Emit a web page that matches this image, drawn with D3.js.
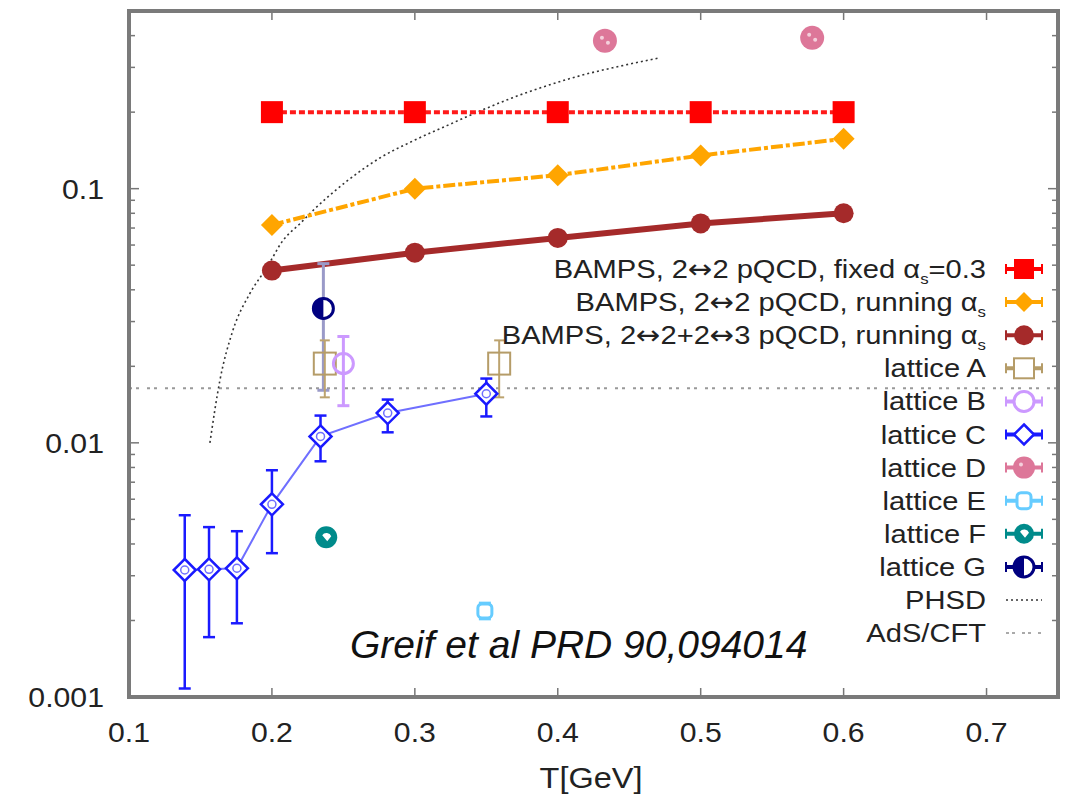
<!DOCTYPE html>
<html>
<head>
<meta charset="utf-8">
<script src="https://cdn.jsdelivr.net/npm/d3@7"></script>
<style>
  body { margin: 0; background: #fff; }
  text { font-family: "Liberation Sans", Arial, sans-serif; fill: #222; }
</style>
</head>
<body>
<div id="chart"></div>
<script>
// temperaturas BAMPS
let bampsT = [0.2, 0.3, 0.4, 0.5, 0.6];
let bampsFixed = [0.2, 0.2, 0.2, 0.2, 0.2];
let bampsRunning = [0.072, 0.1, 0.113, 0.135, 0.157];
let bampsRunning23 = [0.0476, 0.056, 0.064, 0.073, 0.080];

// lattice C (con errores)
let latCT = [0.139, 0.156, 0.1755, 0.2, 0.234, 0.281, 0.35];
let latCV = [0.00316, 0.00318, 0.00321, 0.00573, 0.0106, 0.0131, 0.0156];
let latCLo = [0.00108, 0.00172, 0.00195, 0.00368, 0.00846, 0.011, 0.0127];
let latCHi = [0.00519, 0.00466, 0.00449, 0.0078, 0.0128, 0.0148, 0.0179];

let latAT = [0.237, 0.359];
let latAV = [0.0205, 0.0205];
let latALo = [0.0151, 0.0151];
let latAHi = [0.0253, 0.0253];

let latBT = [0.25];
let latBV = [0.0205];
let latBLo = [0.014];
let latBHi = [0.0262];

let latDT = [0.433, 0.578];
let latDV = [0.382, 0.392];

let latET = [0.349];
let latEV = [0.00218];
let latELo = [0.00203];
let latEHi = [0.00234];

let latFT = [0.238];
let latFV = [0.00425];

let latGT = [0.236];
let latGV = [0.0338];
let latGLo = [0.0161];
let latGHi = [0.0507];

// curva PHSD
let phsdT = [0.1566, 0.1636, 0.1727, 0.1846, 0.1965, 0.2077, 0.2196, 0.2287, 0.2524, 0.2755, 0.2986, 0.3224, 0.3455, 0.3685, 0.3923, 0.4154, 0.4385, 0.4713];
let phsdV = [0.0100, 0.0176, 0.0277, 0.0387, 0.0490, 0.0625, 0.0728, 0.082, 0.107, 0.132, 0.154, 0.177, 0.202, 0.228, 0.254, 0.278, 0.299, 0.327];

// AdS/CFT constante
let adsV = 0.0164;

let xTicks = [0.1, 0.2, 0.3, 0.4, 0.5, 0.6, 0.7];
let yTicks = [0.001, 0.01, 0.1];

let W = 1069, H = 799;
let pLeft = 129, pRight = 1058, pTop = 11, pBottom = 697;
let stretch = 1.12; // el texto original es algo más ancho

let svg = d3.select("#chart").append("svg")
    .attr("width", W)
    .attr("height", H);

let x = d3.scaleLinear().domain([0.1, 0.75]).range([pLeft, pRight]);
let y = d3.scaleLog().domain([0.001, 0.5]).range([pBottom, pTop]);

function zip(ts, vs, lo, hi) {
    return ts.map((t, i) => ({t: t, v: vs[i], lo: lo ? lo[i] : null, hi: hi ? hi[i] : null}));
}

function label(parent, px, py, anchor, size, str) {
    return parent.append("text")
        .attr("transform", "translate(" + px + "," + py + ") scale(" + stretch + ",1)")
        .attr("text-anchor", anchor)
        .style("font-size", size + "px")
        .text(str);
}

let line = d3.line().x(d => x(d.t)).y(d => y(d.v));

// defs
svg.append("defs").append("clipPath").attr("id", "plotClip")
    .append("rect").attr("x", pLeft).attr("y", pTop)
    .attr("width", pRight - pLeft).attr("height", pBottom - pTop);

// ticks interiores
let tickG = svg.append("g").attr("stroke", "#777").attr("stroke-width", 1.5);
xTicks.forEach(t => {
    tickG.append("line").attr("x1", x(t)).attr("x2", x(t)).attr("y1", pBottom).attr("y2", pBottom - 9);
    tickG.append("line").attr("x1", x(t)).attr("x2", x(t)).attr("y1", pTop).attr("y2", pTop + 9);
});
let minor = [];
[0.001, 0.01, 0.1].forEach(dec => {
    for (let k = 1; k <= 9; k++) {
        if (dec * k <= 0.5) minor.push({v: dec * k, major: k === 1});
    }
});
minor.forEach(m => {
    let len = m.major ? 10 : 6;
    tickG.append("line").attr("x1", pLeft).attr("x2", pLeft + len).attr("y1", y(m.v)).attr("y2", y(m.v));
    tickG.append("line").attr("x1", pRight).attr("x2", pRight - len).attr("y1", y(m.v)).attr("y2", y(m.v));
});

// etiquetas de ejes
let axisText = svg.append("g");
xTicks.forEach(t => label(axisText, x(t), 742, "middle", 27, d3.format(".1f")(t)));
yTicks.forEach(v => label(axisText, 104, y(v) + 10, "end", 27, String(v)));
label(axisText, 591, 788, "middle", 29, "T[GeV]");

let plot = svg.append("g").attr("clip-path", "url(#plotClip)");

// AdS/CFT
plot.append("line")
    .attr("x1", pLeft).attr("x2", pRight)
    .attr("y1", y(adsV)).attr("y2", y(adsV))
    .attr("stroke", "#999").attr("stroke-width", 2)
    .attr("stroke-dasharray", "3,4,3,8");

// PHSD
plot.append("path")
    .datum(zip(phsdT, phsdV))
    .attr("d", line.curve(d3.curveMonotoneX))
    .attr("fill", "none")
    .attr("stroke", "#333").attr("stroke-width", 1.6)
    .attr("stroke-dasharray", "2,3");
line.curve(d3.curveLinear);

// barras de error
function errorBars(data, color, width, cap) {
    let g = plot.append("g").attr("stroke", color).attr("stroke-width", width);
    data.forEach(d => {
        g.append("line").attr("x1", x(d.t)).attr("x2", x(d.t)).attr("y1", y(d.lo)).attr("y2", y(d.hi));
        g.append("line").attr("x1", x(d.t) - cap).attr("x2", x(d.t) + cap).attr("y1", y(d.lo)).attr("y2", y(d.lo));
        g.append("line").attr("x1", x(d.t) - cap).attr("x2", x(d.t) + cap).attr("y1", y(d.hi)).attr("y2", y(d.hi));
    });
}

function diamond(r) { return "M0," + (-r) + "L" + r + ",0L0," + r + "L" + (-r) + ",0Z"; }

// BAMPS fijo
let fixedData = zip(bampsT, bampsFixed);
plot.append("path").datum(fixedData).attr("d", line)
    .attr("fill", "none").attr("stroke", "#ff1a1a").attr("stroke-width", 4)
    .attr("stroke-dasharray", "6,3");
plot.append("g").selectAll("rect").data(fixedData).join("rect")
    .attr("x", d => x(d.t) - 11).attr("y", d => y(d.v) - 11)
    .attr("width", 22).attr("height", 22).attr("fill", "#ff0000");

// BAMPS running
let runData = zip(bampsT, bampsRunning);
plot.append("path").datum(runData).attr("d", line)
    .attr("fill", "none").attr("stroke", "#ffa500").attr("stroke-width", 4)
    .attr("stroke-dasharray", "12,3,4,3");
plot.append("g").selectAll("path").data(runData).join("path")
    .attr("transform", d => "translate(" + x(d.t) + "," + y(d.v) + ")")
    .attr("d", diamond(11)).attr("fill", "#ffa500");

// BAMPS 2<->3
let run23Data = zip(bampsT, bampsRunning23);
plot.append("path").datum(run23Data).attr("d", line)
    .attr("fill", "none").attr("stroke", "#a52a2a").attr("stroke-width", 6);
plot.append("g").selectAll("circle").data(run23Data).join("circle")
    .attr("cx", d => x(d.t)).attr("cy", d => y(d.v)).attr("r", 10)
    .attr("fill", "#a52a2a");

// lattice G
let gData = zip(latGT, latGV, latGLo, latGHi);
errorBars(gData, "#9a9ac8", 3, 6);
plot.append("g").selectAll("g").data(gData).join("g")
    .attr("transform", d => "translate(" + x(d.t) + "," + y(d.v) + ")")
    .each(function() {
        let s = d3.select(this);
        s.append("circle").attr("r", 10).attr("fill", "#fff").attr("stroke", "#000080").attr("stroke-width", 3);
        s.append("path").attr("d", "M0,-10A10,10 0 0,0 0,10Z").attr("fill", "#000080");
    });

// lattice A
let aData = zip(latAT, latAV, latALo, latAHi);
errorBars(aData, "#bca36f", 2, 5);
plot.append("g").selectAll("rect").data(aData).join("rect")
    .attr("x", d => x(d.t) - 11).attr("y", d => y(d.v) - 11)
    .attr("width", 22).attr("height", 22)
    .attr("fill", "none").attr("stroke", "#b59c68").attr("stroke-width", 2);

// lattice B
let bData = zip(latBT, latBV, latBLo, latBHi);
errorBars(bData, "#cc99ff", 3, 6);
plot.append("g").selectAll("circle").data(bData).join("circle")
    .attr("cx", d => x(d.t)).attr("cy", d => y(d.v)).attr("r", 10)
    .attr("fill", "none").attr("stroke", "#cc99ff").attr("stroke-width", 3);

// lattice C
let cData = zip(latCT, latCV, latCLo, latCHi);
plot.append("path").datum(cData).attr("d", line)
    .attr("fill", "none").attr("stroke", "#6f6fff").attr("stroke-width", 2);
errorBars(cData, "#1a1aff", 2.5, 6);
plot.append("g").selectAll("g").data(cData).join("g")
    .attr("transform", d => "translate(" + x(d.t) + "," + y(d.v) + ")")
    .each(function() {
        let s = d3.select(this);
        s.append("path").attr("d", diamond(11)).attr("fill", "#fff").attr("stroke", "#1a1aff").attr("stroke-width", 2.5);
        s.append("circle").attr("r", 4).attr("fill", "none").attr("stroke", "#6f6fff").attr("stroke-width", 1.5);
    });

// lattice D
plot.append("g").selectAll("g").data(zip(latDT, latDV)).join("g")
    .attr("transform", d => "translate(" + x(d.t) + "," + y(d.v) + ")")
    .each(function() {
        let s = d3.select(this);
        s.append("circle").attr("r", 12).attr("fill", "#dd7799");
        s.append("circle").attr("cx", -3).attr("cy", -3).attr("r", 2).attr("fill", "#f4d0dc");
        s.append("circle").attr("cx", 3).attr("cy", 2).attr("r", 2).attr("fill", "#f4d0dc");
    });

// lattice E
let eData = zip(latET, latEV, latELo, latEHi);
errorBars(eData, "#66ccff", 3, 6);
plot.append("g").selectAll("rect").data(eData).join("rect")
    .attr("x", d => x(d.t) - 7).attr("y", d => y(d.v) - 7)
    .attr("width", 14).attr("height", 14).attr("rx", 4)
    .attr("fill", "#fff").attr("stroke", "#66ccff").attr("stroke-width", 3);

// lattice F
plot.append("g").selectAll("g").data(zip(latFT, latFV)).join("g")
    .attr("transform", d => "translate(" + x(d.t) + "," + y(d.v) + ")")
    .each(function() {
        let s = d3.select(this);
        s.append("circle").attr("r", 11).attr("fill", "#008b8b");
        s.append("path").attr("d", "M-4,-2A5,5 0 0,1 5,-1L1,4Z").attr("fill", "#fff");
    });

// marco
svg.append("rect")
    .attr("x", pLeft).attr("y", pTop)
    .attr("width", pRight - pLeft).attr("height", pBottom - pTop)
    .attr("fill", "none").attr("stroke", "#7a7a7a").attr("stroke-width", 4);

// leyenda
let legendRows = [
    {label: ["BAMPS, 2\u21942 pQCD, fixed \u03B1", "s", "=0.3"], color: "#ff0000", kind: "square"},
    {label: ["BAMPS, 2\u21942 pQCD, running \u03B1", "s", ""], color: "#ffa500", kind: "diamondFill"},
    {label: ["BAMPS, 2\u21942+2\u21943 pQCD, running \u03B1", "s", ""], color: "#a52a2a", kind: "circleFill"},
    {label: ["lattice A"], color: "#b59c68", kind: "squareOpen"},
    {label: ["lattice B"], color: "#cc99ff", kind: "circleOpen"},
    {label: ["lattice C"], color: "#1a1aff", kind: "diamondOpen"},
    {label: ["lattice D"], color: "#dd7799", kind: "circleD"},
    {label: ["lattice E"], color: "#66ccff", kind: "E"},
    {label: ["lattice F"], color: "#008b8b", kind: "circleF"},
    {label: ["lattice G"], color: "#000080", kind: "circleG"},
    {label: ["PHSD"], color: "#666", kind: "dots"},
    {label: ["AdS/CFT"], color: "#aaa", kind: "dots2"}
];

let lg = svg.append("g");
legendRows.forEach((r, i) => {
    let cy = 269 + i * 33.1;
    let t = label(lg, 986, cy + 9, "end", 26, null);
    // la flecha con una fuente más ancha
    let parts = r.label[0].split("\u2194");
    parts.forEach((p, k) => {
        if (k > 0) t.append("tspan").style("font-family", "'DejaVu Sans'").text("\u2194");
        t.append("tspan").text(p);
    });
    if (r.label.length > 1) {
        t.append("tspan").attr("dy", 6).style("font-size", "15px").text(r.label[1]);
        t.append("tspan").attr("dy", -6).text(r.label[2]);
    }
    let sx = 1024;
    let g = lg.append("g").attr("transform", "translate(" + sx + "," + cy + ")");
    if (r.kind === "dots" || r.kind === "dots2") {
        g.append("line").attr("x1", -18).attr("x2", 18)
            .attr("stroke", r.color).attr("stroke-width", 2)
            .attr("stroke-dasharray", r.kind === "dots" ? "2,3" : "3,3,3,7");
        return;
    }
    g.append("line").attr("x1", -18).attr("x2", 18).attr("stroke", r.color).attr("stroke-width", 4);
    g.append("line").attr("x1", -18).attr("x2", -18).attr("y1", -5).attr("y2", 5).attr("stroke", r.color).attr("stroke-width", 2);
    g.append("line").attr("x1", 18).attr("x2", 18).attr("y1", -5).attr("y2", 5).attr("stroke", r.color).attr("stroke-width", 2);
    if (r.kind === "square") g.append("rect").attr("x", -10).attr("y", -10).attr("width", 20).attr("height", 20).attr("fill", r.color);
    if (r.kind === "diamondFill") g.append("path").attr("d", diamond(10)).attr("fill", r.color);
    if (r.kind === "circleFill") g.append("circle").attr("r", 10).attr("fill", r.color);
    if (r.kind === "squareOpen") g.append("rect").attr("x", -10).attr("y", -10).attr("width", 20).attr("height", 20).attr("fill", "#fff").attr("stroke", r.color).attr("stroke-width", 2);
    if (r.kind === "circleOpen") g.append("circle").attr("r", 10).attr("fill", "#fff").attr("stroke", r.color).attr("stroke-width", 3);
    if (r.kind === "diamondOpen") g.append("path").attr("d", diamond(10)).attr("fill", "#fff").attr("stroke", r.color).attr("stroke-width", 2.5);
    if (r.kind === "circleD") {
        g.append("circle").attr("r", 11).attr("fill", r.color);
        g.append("circle").attr("cx", -3).attr("cy", -3).attr("r", 2).attr("fill", "#f4d0dc");
    }
    if (r.kind === "E") g.append("rect").attr("x", -7).attr("y", -8).attr("width", 14).attr("height", 16).attr("rx", 4).attr("fill", "#fff").attr("stroke", r.color).attr("stroke-width", 3);
    if (r.kind === "circleF") {
        g.append("circle").attr("r", 10).attr("fill", r.color);
        g.append("path").attr("d", "M-4,-2A5,5 0 0,1 5,-1L1,4Z").attr("fill", "#fff");
    }
    if (r.kind === "circleG") {
        g.append("circle").attr("r", 10).attr("fill", "#fff").attr("stroke", r.color).attr("stroke-width", 3);
        g.append("path").attr("d", "M0,-10A10,10 0 0,0 0,10Z").attr("fill", r.color);
    }
});

// anotación
svg.append("text")
    .attr("x", 350).attr("y", 658)
    .style("font-size", "39px")
    .style("font-style", "italic")
    .style("fill", "#111")
    .text("Greif et al PRD 90,094014");
</script>
</body>
</html>
